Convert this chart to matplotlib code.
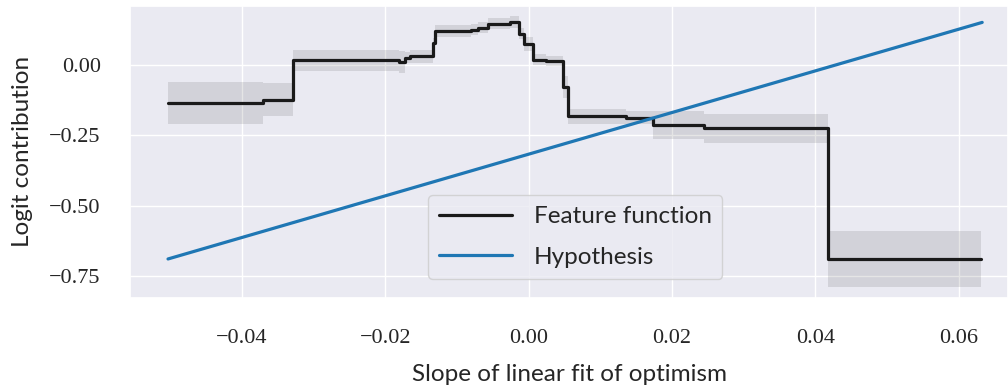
import numpy as np
import matplotlib
matplotlib.use("Agg")
import matplotlib.pyplot as plt
import seaborn as sns

# step edges of the feature function (left edge of each step, plus final end)
step_x = [-0.0503, -0.0370, -0.0329, -0.0181, -0.0172, -0.0165, -0.0133, -0.0131,
          -0.0080, -0.0071, -0.0057, -0.0026, -0.0013, -0.0007, 0.0006, 0.0025,
          0.0048, 0.0055, 0.0136, 0.0173, 0.0245, 0.0418, 0.0632]
step_y = [-0.135, -0.122, 0.018, 0.012, 0.027, 0.032, 0.079, 0.122,
          0.127, 0.134, 0.148, 0.154, 0.113, 0.077, 0.020, 0.015,
          -0.077, -0.181, -0.186, -0.211, -0.225, -0.691]
step_err = [0.074, 0.060, 0.038, 0.040, 0.020, 0.022, 0.020, 0.022,
            0.020, 0.020, 0.020, 0.020, 0.020, 0.025, 0.020, 0.018,
            0.040, 0.027, 0.022, 0.050, 0.053, 0.099]

# hypothesis line (end points)
hyp_x = [-0.0503, 0.0633]
hyp_y = [-0.690, 0.153]

sns.set_theme(style="darkgrid")
plt.rcParams['font.family'] = ['Lato', 'DejaVu Sans']

fig = plt.figure(figsize=(10.08, 3.89), dpi=100)
ax = fig.add_axes([0.129, 0.234, 0.871, 0.751])

x = np.asarray(step_x)
y = np.append(step_y, step_y[-1])
e = np.append(step_err, step_err[-1])

ax.fill_between(x, y - e, y + e, step='post', color='black', alpha=0.1, lw=0)
ax.step(x, y, where='post', color='#1a1a1a', lw=2.3, label='Feature function')
ax.plot(hyp_x, hyp_y, color='#1f77b4', lw=2.3, label='Hypothesis')

ax.set_xlim(-0.0556, 0.0669)
ax.set_ylim(-0.829, 0.212)
ax.set_xticks([-0.04, -0.02, 0.0, 0.02, 0.04, 0.06])
ax.set_yticks([0.0, -0.25, -0.5, -0.75])
for lab in ax.get_xticklabels() + ax.get_yticklabels():
    lab.set_family(['Liberation Serif', 'DejaVu Serif'])
    lab.set_fontsize(16)
ax.tick_params(axis='x', pad=16)
ax.tick_params(axis='y', pad=15)
ax.set_xlabel('Slope of linear fit of optimism', fontsize=17.5, labelpad=12)
ax.set_ylabel('Logit contribution', fontsize=17.5, labelpad=12)

ax.legend(loc='lower center', bbox_to_anchor=(0.507, 0.025), fontsize=17.5,
          handlelength=3, handletextpad=0.9, labelspacing=0.8,
          borderpad=0.45)

fig.savefig('out.png', dpi=100)
